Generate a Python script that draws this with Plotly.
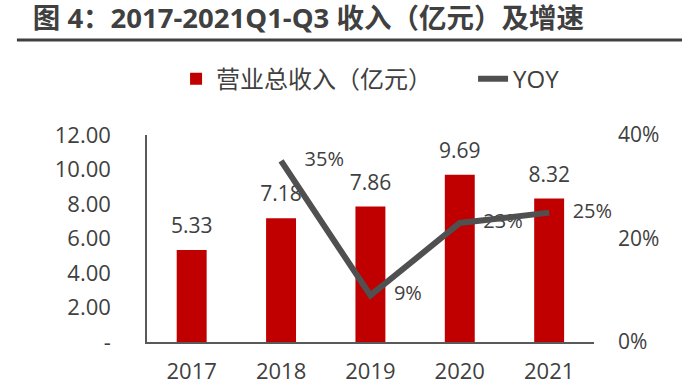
import plotly.graph_objects as go

years = ["2017", "2018", "2019", "2020", "2021"]
revenue = [5.33, 7.18, 7.86, 9.69, 8.32]
yoy_years = ["2018", "2019", "2020", "2021"]
yoy = [0.35, 0.09, 0.23, 0.25]
left_tickvals = [0, 2, 4, 6, 8, 10, 12]
left_ticktext = ["-", "2.00", "4.00", "6.00", "8.00", "10.00", "12.00"]
right_tickvals = [0, 0.2, 0.4]
right_ticktext = ["0%", "20%", "40%"]
title_text = "图 4：2017-2021Q1-Q3 收入（亿元）及增速"
bar_name = "营业总收入（亿元）"
line_name = "YOY"

TXT = "#404040"
FONT = "Open Sans, Noto Sans CJK SC, sans-serif"

fig = go.Figure()
fig.add_trace(go.Bar(x=years, y=revenue, name=bar_name + "\u3000\u3000",
                     marker=dict(color="#C00000", line=dict(width=0)), hoverinfo="skip"))
fig.add_trace(go.Scatter(x=years, y=revenue, mode="markers+text", showlegend=False,
                         text=[f"{v:.2f}" for v in revenue], textposition="top center",
                         marker=dict(size=17, opacity=0), textfont=dict(size=21, color=TXT, family=FONT),
                         hoverinfo="skip", cliponaxis=False))
fig.add_trace(go.Scatter(x=yoy_years, y=yoy, yaxis="y2", mode="markers+text", showlegend=False,
                         text=[f"{v*100:.0f}%" for v in yoy], textposition="middle right",
                         marker=dict(size=36, opacity=0), textfont=dict(size=20, color=TXT, family=FONT),
                         hoverinfo="skip", cliponaxis=False))
fig.add_trace(go.Scatter(x=yoy_years, y=yoy, yaxis="y2", mode="lines", name=line_name,
                         line=dict(color="#505050", width=6), cliponaxis=False))

fig.update_layout(
    width=682, height=386,
    margin=dict(l=147, r=88, t=135, b=44, autoexpand=False),
    paper_bgcolor="white", plot_bgcolor="white",
    font=dict(family=FONT, color=TXT, size=21),
    bargap=0.665,
    title=dict(text="<b>" + title_text + "</b>", xref="container", x=0.048, xanchor="left",
               yref="container", y=0.953, yanchor="middle", pad=dict(l=0, r=0, t=0, b=0),
               font=dict(size=27.5, color=TXT, family="Open Sans, Noto Sans CJK SC, sans-serif")),
    xaxis=dict(showline=True, linecolor="#595959", linewidth=1.5, showgrid=False, ticks="",
               tickfont=dict(size=22, color=TXT), ticklabelstandoff=9, automargin=False),
    yaxis=dict(range=[0, 12], tickvals=left_tickvals, ticktext=left_ticktext, showline=True,
               linecolor="#595959", linewidth=1.5, showgrid=False, zeroline=False, ticks="",
               tickfont=dict(size=22, color=TXT), ticklabelstandoff=30, automargin=False),
    yaxis2=dict(range=[0, 0.4], overlaying="y", side="right", tickvals=right_tickvals,
                ticktext=right_ticktext, showline=False, showgrid=False, zeroline=False, ticks="",
                tickfont=dict(size=21, color=TXT), ticklabelstandoff=23, automargin=False),
    legend=dict(orientation="h", x=0.065, xanchor="left", y=1.27, yanchor="middle",
                font=dict(size=24, color=TXT), bgcolor="rgba(0,0,0,0)"),
    shapes=[dict(type="line", xref="paper", yref="paper", x0=-0.291, x1=1.197, y0=1.459, y1=1.459,
                 line=dict(color="#404040", width=3))],
    showlegend=True,
)

fig.write_html("out.html", config={"displayModeBar": False},
               post_script="document.body.style.margin='0px';")
